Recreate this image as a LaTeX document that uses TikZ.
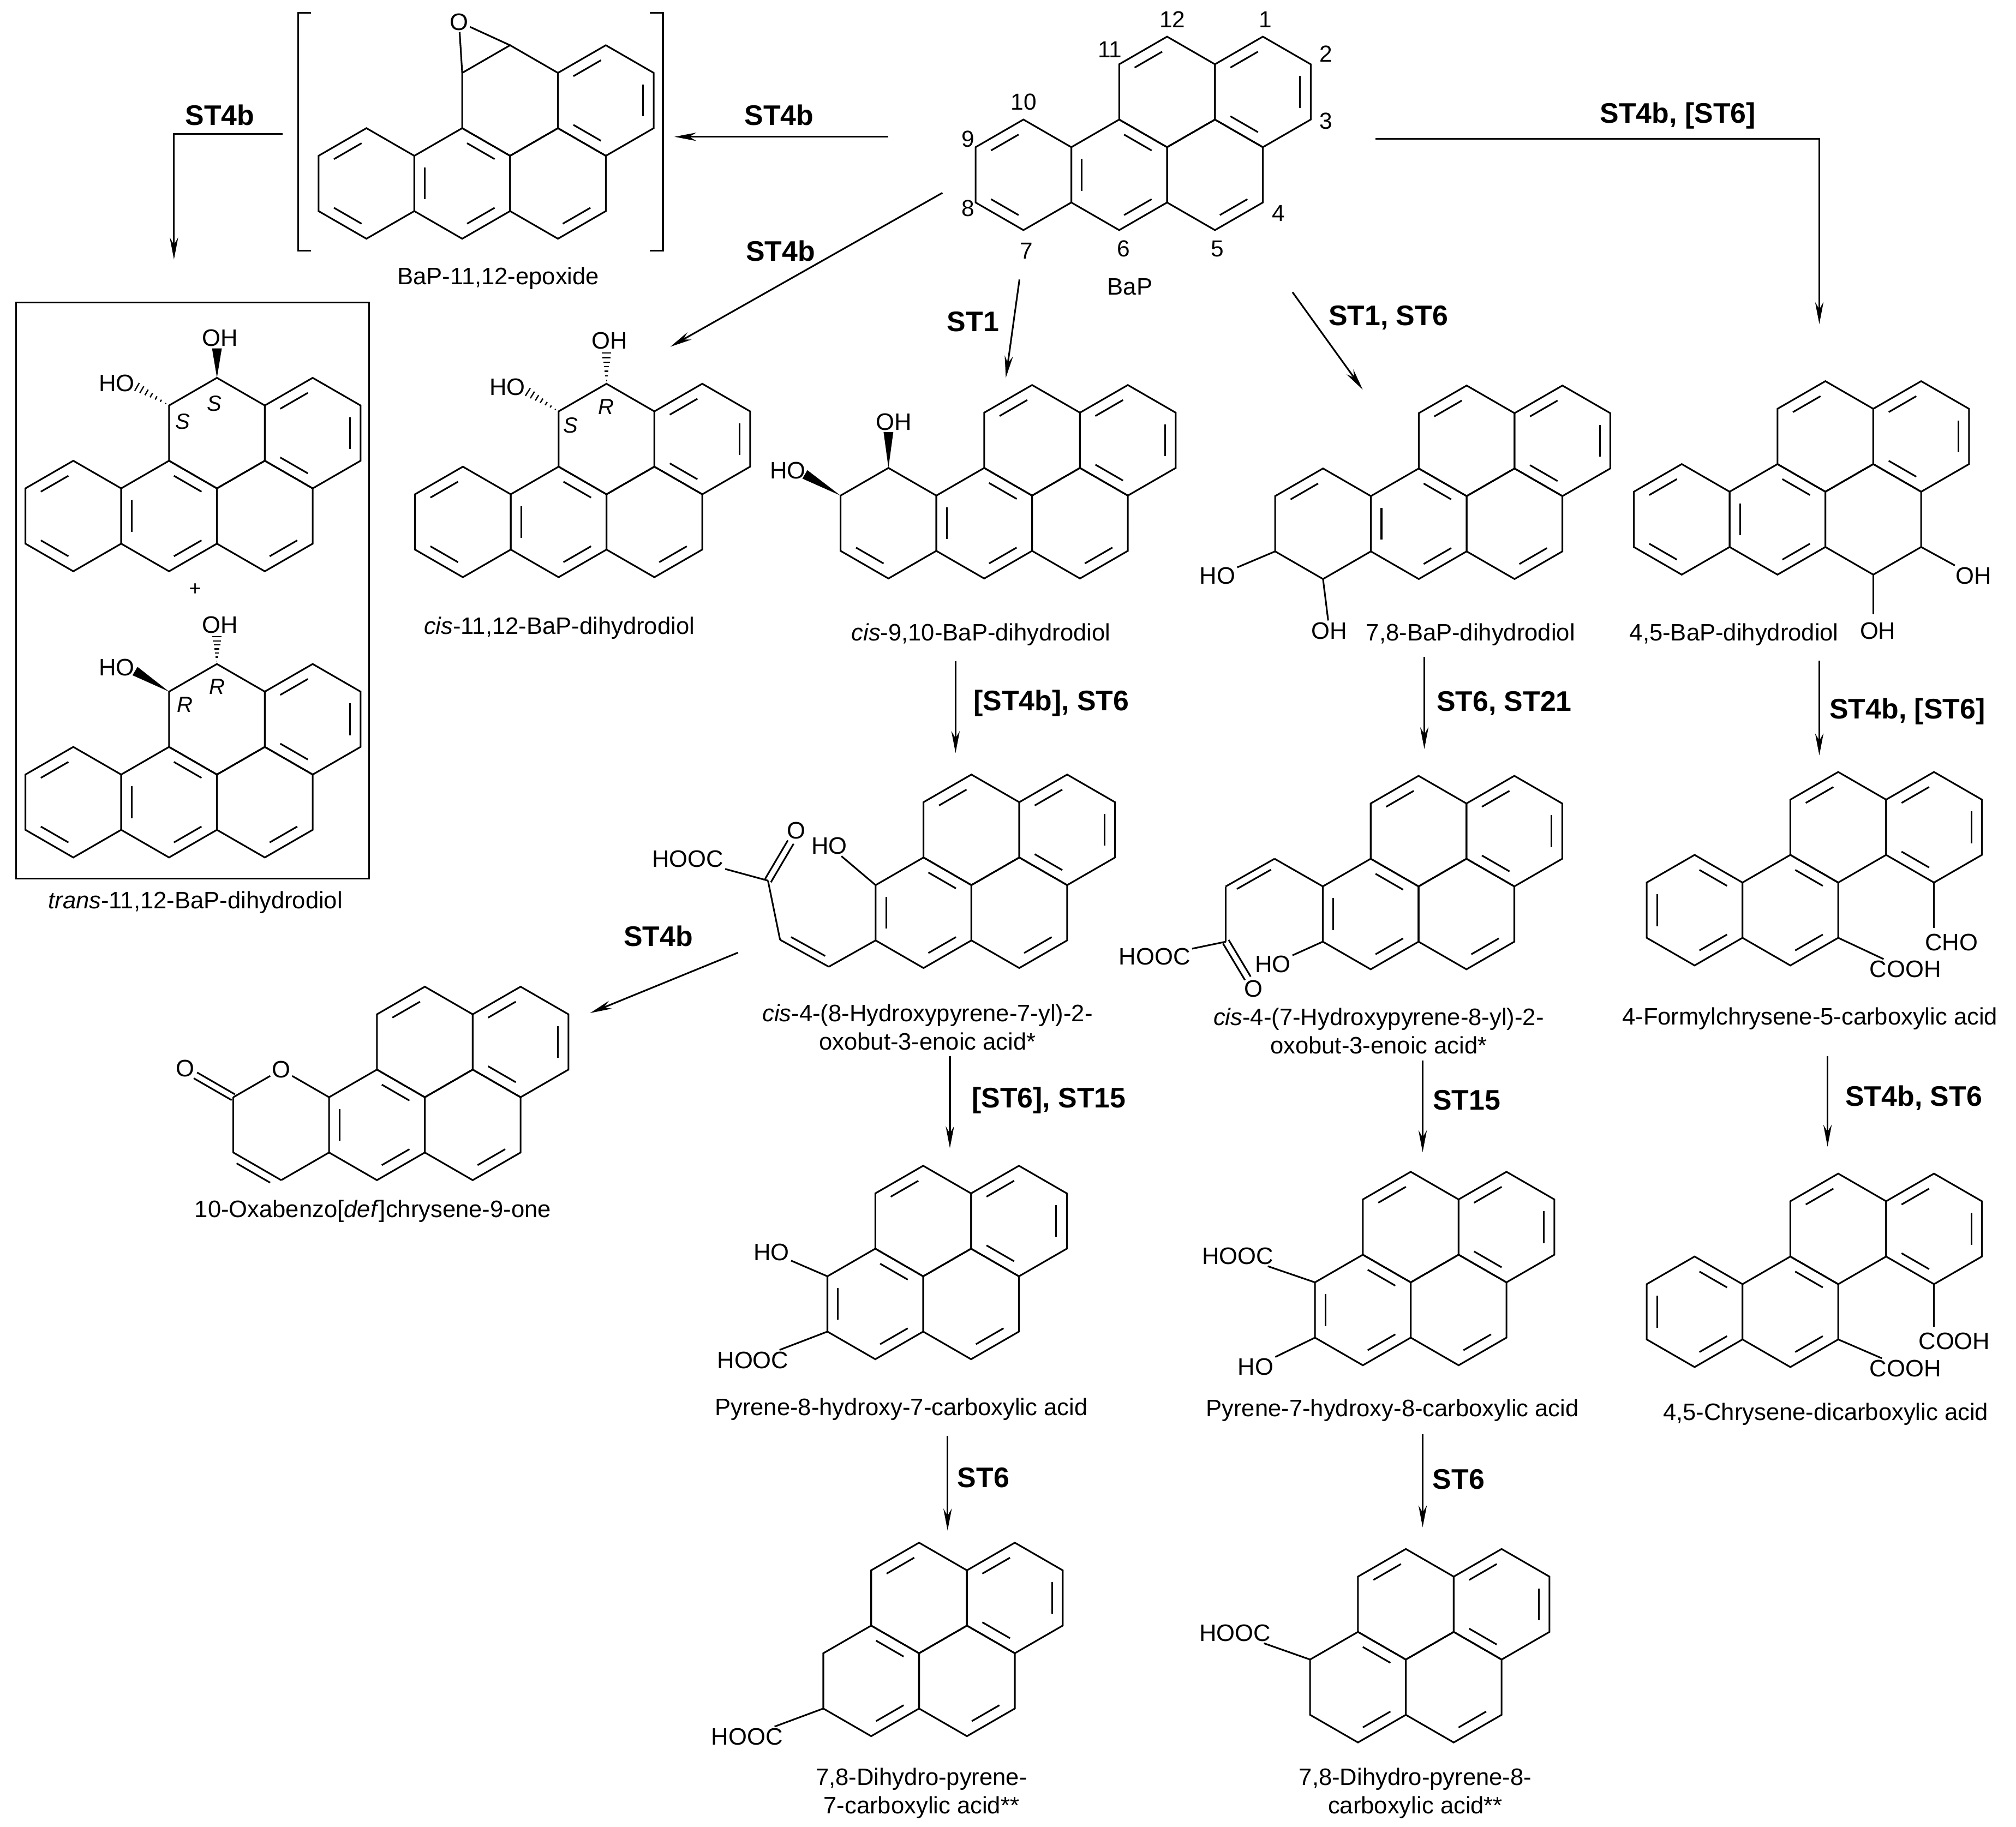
\documentclass[tikz,border=0pt]{standalone}
\usepackage{fontspec}
\setmainfont{Liberation Sans}
\usetikzlibrary{calc,arrows.meta}
\tikzset{
 bond/.style={line width=1.3pt},
 arr/.style={line width=1.3pt,-{Stealth[length=17pt,width=6.5pt]}},
 lab/.style={font=\fontsize{18.5}{22}\selectfont,inner sep=1pt,align=center},
 stp/.style={font=\fontsize{22}{24}\selectfont\bfseries,inner sep=1pt},
 atom/.style={font=\fontsize{18.5}{20}\selectfont,inner sep=1.2pt},
 num/.style={font=\fontsize{18}{20}\selectfont,inner sep=0pt},
 cfg/.style={font=\fontsize{17}{18}\selectfont\itshape,inner sep=0pt}}
\newcommand\hexr[3]{%
 \begin{scope}[shift={(#1,#2)}]
 \draw[bond] (0,-43) -- (37.24,-21.5) -- (37.24,21.5) -- (0,43) -- (-37.24,21.5) -- (-37.24,-21.5) -- cycle;
 \if\relax\detokenize{#3}\relax\else
 \foreach \k in {#3}{\draw[bond] ($({-90+60*\k}:33.5)!0.13!({-30+60*\k}:33.5)$) -- ($({-90+60*\k}:33.5)!0.87!({-30+60*\k}:33.5)$);}
 \fi
 \end{scope}}
\newcommand\bapring[6]{\hexr{#1}{#2}{#3}\hexr{#1+74.48}{#2}{#4}\hexr{#1+148.96}{#2}{#5}\hexr{#1+111.72}{#2-64.5}{#6}\hexr{#1+186.2}{#2-64.5}{1,3,5}}
\newcommand\pyrring[3]{\hexr{#1+74.48}{#2}{#3}\hexr{#1+148.96}{#2}{2}\hexr{#1+111.72}{#2-64.5}{5}\hexr{#1+186.2}{#2-64.5}{1,3,5}}
\newcommand\chrys[2]{\hexr{#1}{#2}{0,2,4}\hexr{#1+74.48}{#2}{0,2}\hexr{#1+111.72}{#2-64.5}{5}\hexr{#1+186.2}{#2-64.5}{1,3,5}}
\newcommand\bwedge[2]{\fill ($(#1)$) -- ($(#2)!3.8pt!90:(#1)$) -- ($(#2)!3.8pt!-90:(#1)$) -- cycle;}
\newcommand\hwedge[2]{\foreach \t in {0.1,0.24,...,1.0}{\pgfmathsetmacro\dd{3.8*\t}\draw[line width=1pt] ($(#1)!\t!(#2)!\dd pt!90:(#2)$) -- ($(#1)!\t!(#2)!\dd pt!-90:(#2)$);}}
\newcommand\dbond[3]{\draw[bond] (#1) -- (#2); \draw[bond] ($(#1)!0.15!(#2)!6pt!#3:(#2)$) -- ($(#2)!0.15!(#1)!6pt!-#3:(#1)$);}
\newcommand\cobond[2]{\draw[bond] ($(#1)!2.6pt!90:(#2)$) -- ($(#2)!2.6pt!-90:(#1)$); \draw[bond] ($(#1)!2.6pt!-90:(#2)$) -- ($(#2)!2.6pt!90:(#1)$);}
\begin{document}
\begin{tikzpicture}[x=1pt,y=-1pt]
\useasboundingbox (0,0) rectangle (1568,1420.8);
\fill[white] (0,0) rectangle (1568,1420.8);

% ---------- BaP ----------
\bapring{796}{136}{3,5}{0,2,4}{2}{5}
\node[num] (n12) at (911.8,15.3) {12};
\node[num] (n1) at (984,15.3) {1};
\node[num] (n11) at (863.3,38.7) {11};
\node[num] (n2) at (1031.4,41.8) {2};
\node[num] (n10) at (796.3,79.3) {10};
\node[num] (n3) at (1031.4,94.2) {3};
\node[num] (n9) at (753,108.2) {9};
\node[num] (n8) at (753,162.1) {8};
\node[num] (n4) at (994.3,166) {4};
\node[num] (n7) at (798.4,195) {7};
\node[num] (n6) at (873.7,193.4) {6};
\node[num] (n5) at (946.8,193.4) {5};
\node[lab] (lbap) at (878.8,223) {BaP};

% ---------- epoxide ----------
\bapring{285}{142.7}{3,5}{0,2,4}{2}{}
\node[atom] (oep) at (357,17) {O};
\coordinate (c11e) at (359.48,56.7);
\coordinate (c12e) at (396.72,35.2);
\draw[bond] (c11e) -- (oep) -- (c12e);
\draw[bond] (242,10) -- (232,10) -- (232,195) -- (242,195);
\draw[bond] (505.6,10) -- (515.6,10) -- (515.6,195) -- (505.6,195);
\node[lab] (lep) at (387.5,216.5) {BaP-11,12-epoxide};

% ---------- cis-11,12 ----------
\bapring{360}{406}{3,5}{0,2,4}{2}{}
\hwedge{434.48,320}{409,304}
\node[atom,anchor=east] (hoc) at (410,301) {HO};
\hwedge{471.72,298.5}{471.72,273}
\node[atom,anchor=south] (ohc) at (474,273) {OH};
\node[cfg] (sc) at (444,331) {S};
\node[cfg] (rc) at (471.5,316.5) {R};
\node[lab] (lcis1112) at (435,488.5) {\textit{cis}-11,12-BaP-dihydrodiol};

% ---------- trans box ----------
\draw[bond] (12.5,235.3) rectangle (287,683.5);
\bapring{57}{401.4}{3,5}{0,2,4}{2}{}
\hwedge{131.48,315.4}{105,300}
\node[atom,anchor=east] (hot1) at (106,298) {HO};
\bwedge{168.72,293.9}{168.72,271}
\node[atom,anchor=south] (oht1) at (171,271) {OH};
\node[cfg] (st1) at (142,328) {S};
\node[cfg] (st2) at (166.5,314) {S};
\node[font=\fontsize{16}{16}\selectfont] (plus) at (151.8,458.7) {+};
\bapring{57}{624}{3,5}{0,2,4}{2}{}
\bwedge{131.48,538}{105,522}
\node[atom,anchor=east] (hot2) at (106,519) {HO};
\hwedge{168.72,516.5}{168.72,494}
\node[atom,anchor=south] (oht2) at (171,494) {OH};
\node[cfg] (rt1) at (143.7,548) {R};
\node[cfg] (rt2) at (168.7,534) {R};
\node[lab] (ltrans) at (152,701.8) {\textit{trans}-11,12-BaP-dihydrodiol};

% ---------- cis-9,10 ----------
\bapring{691}{407}{3}{0,2,4}{2}{5}
\bwedge{691,364}{691,336}
\node[atom,anchor=south] (oh910) at (695,336) {OH};
\bwedge{653.76,385.5}{626,369}
\node[atom,anchor=east] (ho910) at (628,366) {HO};
\node[lab] (l910) at (763,493.8) {\textit{cis}-9,10-BaP-dihydrodiol};

% ---------- 7,8 ----------
\bapring{1029}{407.4}{5}{0,2,4}{2}{5}
\node[atom] (ho78) at (947,447.8) {HO};
\node[atom] (oh78) at (1034,490.6) {OH};
\draw[bond] (991.76,428.9) -- (ho78);
\draw[bond] (1029,450.4) -- (oh78);
\node[lab] (l78) at (1143.8,493.8) {7,8-BaP-dihydrodiol};

% ---------- 4,5 ----------
\bapring{1308}{404}{3,5}{0,2,4}{}{5}
\node[atom] (oh45a) at (1535,447.8) {OH};
\node[atom] (oh45b) at (1460.5,490.6) {OH};
\draw[bond] (1494.2,425.5) -- (oh45a);
\draw[bond] (1456.96,447) -- (1456.96,478);
\node[lab] (l45) at (1348.7,493.8) {4,5-BaP-dihydrodiol};

% ---------- cis-4-(8-hydroxypyrene-7-yl) ----------
\pyrring{643.8}{710}{0,2,4}
\node[atom] (ho8) at (645,658) {HO};
\draw[bond] (681.04,688.5) -- (ho8);
\coordinate (a1) at (681.04,731.5);
\coordinate (a2) at (644.6,752);
\coordinate (a3) at (606.7,731);
\coordinate (a4) at (597.3,685);
\coordinate (a5) at (615,655);
\draw[bond] (a1) -- (a2);
\dbond{a2}{a3}{-90}
\draw[bond] (a3) -- (a4);
\cobond{a4}{a5}
\node[atom] (o8) at (619.5,646) {O};
\node[atom,anchor=east] (hooc8) at (564,668) {HOOC};
\draw[bond] (a4) -- (hooc8);
\node[lab] (lhp8) at (721.4,799) {\textit{cis}-4-(8-Hydroxypyrene-7-yl)-2-\\oxobut-3-enoic acid*};

% ---------- cis-4-(7-hydroxypyrene-8-yl) ----------
\pyrring{991.6}{711}{0,2,4}
\coordinate (b1) at (1028.84,689.5);
\coordinate (b2) at (991.3,668);
\coordinate (b3) at (953.4,689.5);
\coordinate (b4) at (953.4,732.5);
\coordinate (b5) at (970.5,761);
\draw[bond] (b1) -- (b2);
\dbond{b2}{b3}{90}
\draw[bond] (b3) -- (b4);
\cobond{b4}{b5}
\node[atom] (o7) at (975,769) {O};
\node[atom] (hooc7) at (898,744) {HOOC};
\draw[bond] (b4) -- (hooc7);
\node[atom] (ho7) at (990,750) {HO};
\draw[bond] (1028.84,732.5) -- (ho7);
\node[lab] (lhp7) at (1072.3,802) {\textit{cis}-4-(7-Hydroxypyrene-8-yl)-2-\\oxobut-3-enoic acid*};

% ---------- 4-formylchrysene-5-carboxylic acid ----------
\chrys{1318}{708}
\node[atom] (cooh1) at (1482,754) {COOH};
\draw[bond] (1429.72,729.5) -- (cooh1);
\node[atom] (cho) at (1517.7,733) {CHO};
\coordinate (chob) at (1504.2,722);
\draw[bond] (1504.2,686.5) -- (chob);
\node[lab] (lfc) at (1407.7,792.5) {4-Formylchrysene-5-carboxylic acid};

% ---------- 4,5-chrysene-dicarboxylic acid ----------
\chrys{1318}{1020.4}
\node[atom] (cooh2) at (1482,1064.5) {COOH};
\draw[bond] (1429.72,1041.9) -- (cooh2);
\node[atom] (cooh3) at (1520,1043.4) {COOH};
\coordinate (coohb) at (1504.2,1032);
\draw[bond] (1504.2,998.9) -- (coohb);
\node[lab] (ldc) at (1420,1100) {4,5-Chrysene-dicarboxylic acid};

% ---------- 10-oxabenzo[def]chrysene-9-one ----------
\pyrring{218.7}{875}{0,2,4}
\node[atom] (olac) at (218.7,832) {O};
\coordinate (l1) at (255.94,853.5);
\coordinate (l2) at (255.94,896.5);
\coordinate (l3) at (218.7,918);
\coordinate (l4) at (181.46,896.5);
\coordinate (l5) at (181.46,853.5);
\draw[bond] (olac) -- (l1);
\draw[bond] (l5) -- (olac);
\draw[bond] (l2) -- (l3);
\dbond{l3}{l4}{90}
\draw[bond] (l4) -- (l5);
\coordinate (l6) at (152,836.5);
\cobond{l5}{l6}
\node[atom] (oco) at (144,831) {O};
\node[lab] (lox) at (290,942) {10-Oxabenzo[\textit{def}]chrysene-9-one};

% ---------- pyrene-8-hydroxy-7-carboxylic acid ----------
\pyrring{606.3}{1014.3}{0,2,4}
\node[atom] (hop8) at (600,974) {HO};
\draw[bond] (643.54,992.8) -- (hop8);
\node[atom] (hoocp8) at (585.6,1058) {HOOC};
\draw[bond] (643.54,1035.8) -- (hoocp8);
\node[lab] (lp8) at (701,1096) {Pyrene-8-hydroxy-7-carboxylic acid};

% ---------- pyrene-7-hydroxy-8-carboxylic acid ----------
\pyrring{985.5}{1019}{0,2,4}
\node[atom] (hoocp7) at (962.8,977) {HOOC};
\draw[bond] (1022.74,997.5) -- (hoocp7);
\node[atom] (hop7) at (976.6,1063) {HO};
\draw[bond] (1022.74,1040.5) -- (hop7);
\node[lab] (lp7) at (1083,1097) {Pyrene-7-hydroxy-8-carboxylic acid};

% ---------- dihydropyrenes ----------
\pyrring{603.1}{1307.5}{0,2}
\node[atom] (hoocd1) at (581,1351) {HOOC};
\draw[bond] (640.34,1329) -- (hoocd1);
\node[lab] (ld1) at (716.7,1395) {7,8-Dihydro-pyrene-\\7-carboxylic acid**};
\pyrring{981.7}{1312.4}{0,2}
\node[atom] (hoocd2) at (960.5,1270.3) {HOOC};
\draw[bond] (1018.94,1290.9) -- (hoocd2);
\node[lab] (ld2) at (1100.8,1395) {7,8-Dihydro-pyrene-8-\\carboxylic acid**};

% ---------- arrows ----------
\coordinate (r1s) at (691,106.4); \coordinate (r1e) at (524.6,106.4);
\draw[arr] (r1s) -- (r1e);
\node[stp] (s1) at (606,89.4) {ST4b};
\coordinate (r2s) at (220,104); \coordinate (r2c) at (135.3,104); \coordinate (r2e) at (135.3,201.8);
\draw[arr] (r2s) -- (r2c) -- (r2e);
\node[stp] (s2) at (171,89.4) {ST4b};
\coordinate (r3s) at (733,150); \coordinate (r3e) at (521.4,269.7);
\draw[arr] (r3s) -- (r3e);
\node[stp] (s3) at (607,195) {ST4b};
\coordinate (r4s) at (792.9,217.4); \coordinate (r4e) at (782.3,293.8);
\draw[arr] (r4s) -- (r4e);
\node[stp] (s4) at (756.8,250.3) {ST1};
\coordinate (r5s) at (1005.3,227.3); \coordinate (r5e) at (1059.9,303.1);
\draw[arr] (r5s) -- (r5e);
\node[stp] (s5) at (1079.8,247.2) {ST1, ST6};
\coordinate (r6s) at (1070,108); \coordinate (r6c) at (1415,108); \coordinate (r6e) at (1415,252);
\draw[arr] (r6s) -- (r6c) -- (r6e);
\node[stp] (s6) at (1305,90) {ST4b, [ST6]};
\coordinate (r7s) at (743.2,514.2); \coordinate (r7e) at (743.2,585.7);
\draw[arr] (r7s) -- (r7e);
\node[stp] (s7) at (817.7,547.2) {[ST4b], ST6};
\coordinate (r8s) at (1107.8,511); \coordinate (r8e) at (1107.8,582.6);
\draw[arr] (r8s) -- (r8e);
\node[stp] (s8) at (1169.9,547.2) {ST6, ST21};
\coordinate (r9s) at (1415,514); \coordinate (r9e) at (1415,587.5);
\draw[arr] (r9s) -- (r9e);
\node[stp] (s9) at (1483.5,553.4) {ST4b, [ST6]};
\coordinate (r10s) at (738.8,821.7); \coordinate (r10e) at (738.8,893.1);
\draw[arr] (r10s) -- (r10e);
\node[stp] (s10) at (815.8,855.9) {[ST6], ST15};
\coordinate (r11s) at (1106.5,824.8); \coordinate (r11e) at (1106.5,896.2);
\draw[arr] (r11s) -- (r11e);
\node[stp] (s11) at (1140.7,855.9) {ST15};
\coordinate (r12s) at (1421.4,821.7); \coordinate (r12e) at (1421.4,891.9);
\draw[arr] (r12s) -- (r12e);
\node[stp] (s12) at (1488.5,854) {ST4b, ST6};
\coordinate (r13s) at (737,1116.7); \coordinate (r13e) at (737,1190.5);
\draw[arr] (r13s) -- (r13e);
\node[stp] (s13) at (764.9,1149.6) {ST6};
\coordinate (r14s) at (1106.5,1115.5); \coordinate (r14e) at (1106.5,1188);
\draw[arr] (r14s) -- (r14e);
\node[stp] (s14) at (1134.5,1150.9) {ST6};
\coordinate (r15s) at (574,741); \coordinate (r15e) at (459,788);
\draw[arr] (r15s) -- (r15e);
\node[stp] (s15) at (512,728) {ST4b};
\end{tikzpicture}
\end{document}
